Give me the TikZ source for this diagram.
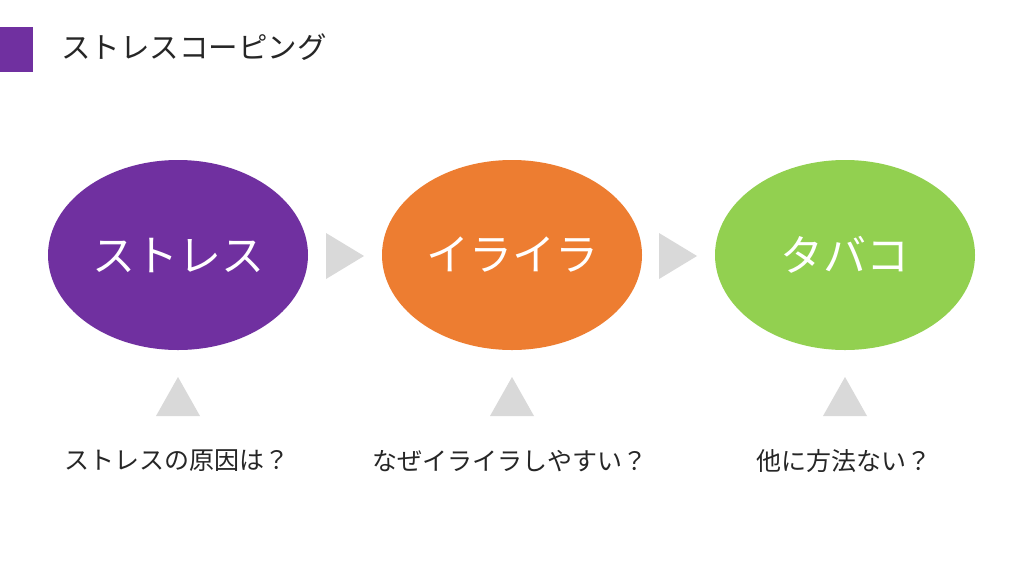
\documentclass[tikz,border=0pt]{standalone}
\usepackage{fontspec}
\setmainfont{Noto Sans CJK JP}
\usetikzlibrary{shapes.geometric}
\definecolor{cpurple}{HTML}{7030A0}
\definecolor{corange}{HTML}{ED7D31}
\definecolor{cgreen}{HTML}{92D050}
\definecolor{cgray}{HTML}{D9D9D9}
\definecolor{ctext}{HTML}{262626}
\tikzset{
  bubble/.style={ellipse, minimum width=260pt, minimum height=190pt, inner sep=0pt, text=white, font=\fontsize{43}{47}\selectfont},
  arrowtri/.style={fill=cgray, draw=none},
  question/.style={text=ctext, font=\fontsize{25}{28}\selectfont, inner sep=0pt}
}
\begin{document}
\begin{tikzpicture}[x=1pt,y=-1pt]
\useasboundingbox (0,0) rectangle (1024,576);
\fill[white] (0,0) rectangle (1024,576);
% title
\fill[cpurple] (0,27) rectangle (33,72);
\node[anchor=west, inner sep=0pt, text=ctext, font=\fontsize{29.5}{32}\selectfont] (title) at (61,47) {ストレスコーピング};
% bubbles
\node[bubble, fill=cpurple] (b1) at (178,255) {ストレス};
\node[bubble, fill=corange] (b2) at (512,255) {イライラ};
\node[bubble, fill=cgreen] (b3) at (845,255) {タバコ};
% right-pointing triangles
\fill[arrowtri] (326,233) -- (364,256) -- (326,279) -- cycle;
\fill[arrowtri] (659,233) -- (697,256) -- (659,279) -- cycle;
% up triangles
\foreach \cx in {178,512,845}{
  \fill[arrowtri] (\cx-22,416) -- (\cx,377) -- (\cx+22,416) -- cycle;
}
% questions
\node[question] (q1) at (177,461) {ストレスの原因は？};
\node[question] (q2) at (510,461) {なぜイライラしやすい？};
\node[question] (q3) at (844,461) {他に方法ない？};
\end{tikzpicture}
\end{document}
